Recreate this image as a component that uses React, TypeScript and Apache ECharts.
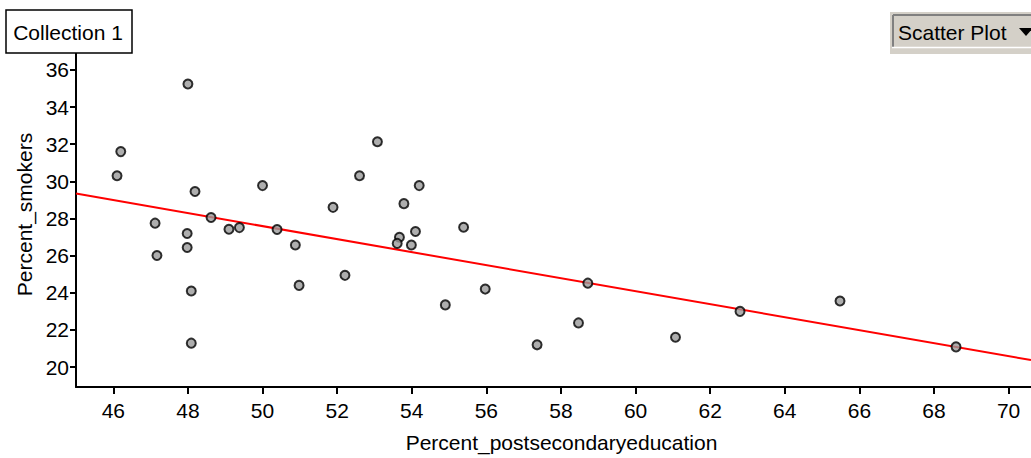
import React, { useEffect, useRef } from "react";
import * as echarts from "echarts";

const postsecondary = [
  48.0, 46.2, 46.1, 48.19, 50.0, 48.62, 47.12, 47.98, 47.98, 49.1, 49.38, 50.39, 50.88,
  51.89, 47.17, 48.09, 48.09, 50.98, 52.21, 53.08, 52.6, 54.2, 53.79, 54.1, 53.67, 53.61,
  53.99, 55.39, 55.97, 54.9, 57.36, 58.47, 58.72, 61.07, 62.8, 65.48, 68.59,
];
const smokers = [
  35.24, 31.6, 30.3, 29.45, 29.77, 28.05, 27.75, 27.19, 26.44, 27.42, 27.51, 27.41, 26.57,
  28.6, 26.01, 24.1, 21.29, 24.4, 24.94, 32.13, 30.3, 29.77, 28.8, 27.3, 26.99, 26.66,
  26.57, 27.53, 24.2, 23.35, 21.2, 22.38, 24.52, 21.61, 23.0, 23.56, 21.09,
];
const fitX = [45, 70.6];
const fitY = [29.34, 20.38];
const xTicks = [46, 48, 50, 52, 54, 56, 58, 60, 62, 64, 66, 68, 70];
const yTicks = [20, 22, 24, 26, 28, 30, 32, 34, 36];

const FONT = "'Liberation Sans', Arial, sans-serif";

export default function App() {
  const ref = useRef<HTMLDivElement>(null);
  useEffect(() => {
    if (!ref.current) return;
    const chart = echarts.init(ref.current, null, { renderer: "svg" });
    const points = postsecondary.map((x, i) => [x, smokers[i]]);
    const fit = fitX.map((x, i) => [x, fitY[i]]);
    chart.setOption({
      animation: false,
      backgroundColor: "#ffffff",
      grid: { left: 76, right: 0, top: 42, bottom: 70, containLabel: false },
      xAxis: {
        type: "value",
        min: 45,
        max: 70.6,
        name: "Percent_postsecondaryeducation",
        nameLocation: "middle",
        nameGap: 45,
        nameTextStyle: { fontFamily: FONT, fontSize: 21, color: "#000", padding: [0, 0, 0, 16] },
        axisLine: { show: true, lineStyle: { color: "#000", width: 2 } },
        axisTick: { show: true, length: 7, lineStyle: { color: "#000", width: 2 }, customValues: xTicks },
        axisLabel: { fontFamily: FONT, fontSize: 21, color: "#000", margin: 13, customValues: xTicks },
        splitLine: { show: false },
      },
      yAxis: {
        type: "value",
        min: 18.93,
        max: 37.5,
        name: "Percent_smokers",
        nameLocation: "middle",
        nameGap: 40,
        nameTextStyle: { fontFamily: FONT, fontSize: 21, color: "#000" },
        axisLine: { show: true, lineStyle: { color: "#000", width: 2 } },
        axisTick: { show: true, length: 6, lineStyle: { color: "#000", width: 2 }, customValues: yTicks },
        axisLabel: { fontFamily: FONT, fontSize: 21, color: "#000", margin: 7, customValues: yTicks },
        splitLine: { show: false },
      },
      series: [
        {
          type: "line",
          data: fit,
          symbol: "none",
          lineStyle: { color: "#ff0000", width: 2 },
          z: 2,
          silent: true,
        },
        {
          type: "scatter",
          data: points,
          symbol: "circle",
          symbolSize: 9,
          itemStyle: { color: "#9a9a9a", borderColor: "#000", borderWidth: 2 },
          z: 3,
        },
      ],
      graphic: [
        {
          type: "rect",
          shape: { x: 6, y: 10, width: 126, height: 43 },
          style: { fill: "#fff", stroke: "#000", lineWidth: 1.5 },
          z: 100,
        },
        {
          type: "text",
          x: 68,
          y: 32,
          style: {
            text: "Collection 1",
            fontFamily: FONT,
            fontSize: 21,
            fill: "#000",
            align: "center",
            verticalAlign: "middle",
          },
          z: 101,
        },
        {
          type: "rect",
          shape: { x: 890, y: 12, width: 141, height: 42 },
          style: { fill: "#d4d0c8" },
          z: 100,
        },
        {
          type: "line",
          shape: { x1: 893, y1: 15, x2: 1031, y2: 15 },
          style: { stroke: "#808080", lineWidth: 2 },
          z: 101,
        },
        {
          type: "line",
          shape: { x1: 893, y1: 15, x2: 893, y2: 47 },
          style: { stroke: "#808080", lineWidth: 2 },
          z: 101,
        },
        {
          type: "line",
          shape: { x1: 892, y1: 47.5, x2: 1031, y2: 47.5 },
          style: { stroke: "#ffffff", lineWidth: 1.5 },
          z: 101,
        },
        {
          type: "text",
          x: 898,
          y: 32,
          style: {
            text: "Scatter Plot",
            fontFamily: FONT,
            fontSize: 21,
            fill: "#000",
            align: "left",
            verticalAlign: "middle",
          },
          z: 102,
        },
        {
          type: "polygon",
          shape: { points: [[1019, 28], [1033, 28], [1026, 36]] },
          style: { fill: "#000" },
          z: 102,
        },
      ],
    });
    return () => chart.dispose();
  }, []);
  return (
    <div
      ref={ref}
      style={{ position: "absolute", left: 0, top: 0, width: 1031, height: 458 }}
    />
  );
}
